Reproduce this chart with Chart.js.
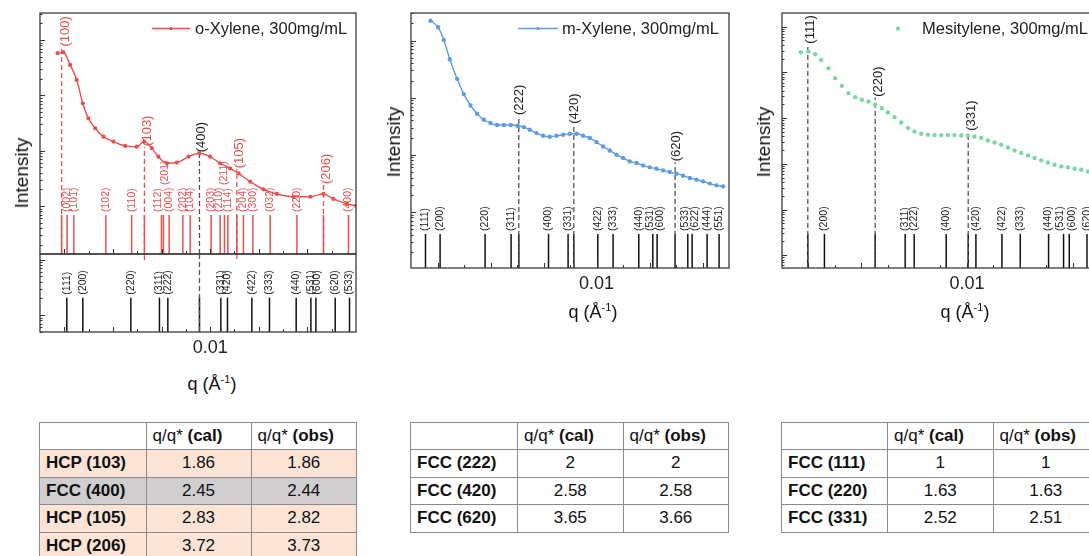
<!DOCTYPE html>
<html>
<head>
<meta charset="utf-8">
<script src="https://cdn.jsdelivr.net/npm/chart.js@4.4.1/dist/chart.umd.min.js"></script>
<style>
    html, body { margin: 0; padding: 0; width: 1089px; height: 556px; overflow: hidden; background: #fff; }
    body { position: relative; font-family: "Liberation Sans", Arial, sans-serif; color: #111; }
    canvas { position: absolute; }
    .t { position: absolute; white-space: nowrap; transform: translate(-50%, -50%); }
    .rot { transform: translate(-50%, -50%) rotate(-90deg); }
    .ax { font-size: 18px; }
    .ax sup { font-size: 11px; }
    table { position: absolute; border-collapse: collapse; table-layout: fixed; font-size: 17px; }
    td { border: 1px solid #8a8a8a; padding: 0 6px; white-space: nowrap; overflow: hidden; box-sizing: border-box; }
    tr { height: 27.5px; }
    td.n { text-align: center; }
</style>
</head>
<body>
<canvas id="cLeftTop"></canvas>
<canvas id="cLeftBot"></canvas>
<canvas id="cMid"></canvas>
<canvas id="cRight"></canvas>

<div class="t rot" style="left:22px;top:173px;font-size:19px">Intensity</div>
<div class="t rot" style="left:393.5px;top:142px;font-size:19px">Intensity</div>
<div class="t rot" style="left:763.5px;top:142px;font-size:19px">Intensity</div>
<div class="t ax" style="left:212px;top:384px">q (Å<sup>-1</sup>)</div>
<div class="t ax" style="left:593px;top:312px">q (Å<sup>-1</sup>)</div>
<div class="t ax" style="left:965px;top:312px">q (Å<sup>-1</sup>)</div>

<table id="tLeft" style="left:39px;top:421.5px"></table>
<table id="tMid" style="left:410px;top:421.5px"></table>
<table id="tRight" style="left:781px;top:421.5px"></table>

<script>
// ---- measured curves (q in 1/A, intensity in arb. units) ----
const oxyQ = [0.00372, 0.00396, 0.00424, 0.00451, 0.00476, 0.00499, 0.00527, 0.00561, 0.00602, 0.00650,
              0.00698, 0.00728, 0.00760, 0.00787, 0.00822, 0.00863, 0.00911, 0.00955, 0.01000, 0.01041,
              0.01082, 0.01117, 0.01165, 0.01219, 0.01275, 0.01343, 0.01412, 0.01466, 0.01507, 0.01563, 0.01600];
const oxyI = [5770, 6010, 3550, 1900, 720, 385, 254, 179, 146, 122,
              118, 146, 111, 78, 59, 61, 78, 90, 78, 59,
              48, 39, 27.5, 20, 16.5, 14.7, 14.7, 16.5, 13.4, 10.9, 10.1];

const mxyQ = [0.003736, 0.004023, 0.004238, 0.004464, 0.004740, 0.004992, 0.005245, 0.005494, 0.005747, 0.006000,
              0.006249, 0.006502, 0.006766, 0.007019, 0.007257, 0.007483, 0.007736, 0.007985, 0.008238, 0.008491,
              0.008740, 0.008992, 0.009245, 0.009494, 0.009747, 0.010000, 0.010249, 0.010502, 0.010755, 0.011004,
              0.011257, 0.011509, 0.011758, 0.012011, 0.012264, 0.012513, 0.012766, 0.013019, 0.013268, 0.013521,
              0.013774, 0.014023, 0.014275, 0.014528, 0.014777];
const mxyI = [22400, 17100, 10300, 4730, 2140, 1155, 731, 523, 411, 360,
              332, 332, 332, 323, 306, 275, 240, 216, 207, 216,
              224, 234, 234, 216, 197, 167, 140, 119, 100.5, 87.9,
              76.7, 71.9, 65.3, 60.3, 57.1, 53.3, 50.0, 46.8, 43.1, 39.3,
              36.7, 34.3, 31.3, 29.2, 28.0];

const mesQ = [0.003712, 0.004000, 0.004254, 0.004481, 0.004758, 0.005011, 0.005265, 0.005515, 0.005769, 0.006023,
              0.006273, 0.006527, 0.006780, 0.007008, 0.007258, 0.007511, 0.007765, 0.008015, 0.008269, 0.008523,
              0.008773, 0.009027, 0.009280, 0.009530, 0.009784, 0.010038, 0.010288, 0.010542, 0.010795, 0.011045,
              0.011299, 0.011553, 0.011803, 0.012057, 0.012311, 0.012561, 0.012814, 0.013068, 0.013318, 0.013572,
              0.013826, 0.014076, 0.014330, 0.014583];
const mesI = [27600, 28450, 24950, 18750, 12360, 7470, 5070, 3515, 2875, 2510,
              2303, 1952, 1652, 1325, 1052, 802, 605, 510, 454, 432,
              425, 425, 425, 425, 417, 411, 397, 366, 324, 293,
              261, 228, 196, 172, 152, 134, 119, 107, 95.5, 87.7,
              83.4, 78.2, 74.3, 68.2];

// ---- reference peak positions ----
const hcpHkl = ['(100)', '(002)', '(101)', '(102)', '(110)', '(103)', '(112)', '(201)', '(004)', '(202)', '(104)',
                '(203)', '(210)', '(211)', '(114)', '(105)', '(204)', '(300)', '(032)', '(220)', '(206)', '(400)'];
const hcpQ = [0.003889, 0.004115, 0.004391, 0.005708, 0.006770, 0.007296, 0.007996, 0.008078, 0.008313, 0.008877, 0.009177,
              0.010041, 0.010412, 0.010588, 0.010728, 0.011099, 0.011370, 0.011757, 0.012469, 0.013568, 0.014663, 0.015691];

const fccLeftHkl = ['(111)', '(200)', '(220)', '(311)', '(222)', '(400)', '(331)', '(420)', '(422)', '(333)',
                    '(440)', '(531)', '(600)', '(620)', '(533)'];
const fccLeftQ = [0.004103, 0.004761, 0.006737, 0.007914, 0.008259, 0.009560, 0.010440, 0.010712, 0.011716, 0.012440,
                  0.013539, 0.014144, 0.014350, 0.015144, 0.015733];

const fccMidHkl = ['(111)', '(200)', '(220)', '(311)', '(222)', '(400)', '(331)', '(420)', '(422)', '(333)',
                   '(440)', '(531)', '(600)', '(620)', '(533)', '(622)', '(444)', '(551)'];
const fccMidQ = [0.003547, 0.004098, 0.005796, 0.006777, 0.007068, 0.008189, 0.008928, 0.009143, 0.010049, 0.010626,
                 0.011596, 0.012125, 0.012287, 0.012966, 0.013445, 0.013608, 0.014174, 0.014626];

const fccRightHkl = ['(111)', '(200)', '(220)', '(311)', '(222)', '(400)', '(331)', '(420)', '(422)', '(333)',
                     '(440)', '(531)', '(600)', '(620)'];
const fccRightQ = [0.003977, 0.004606, 0.006527, 0.007663, 0.008004, 0.009216, 0.010049, 0.010341, 0.011326, 0.012019,
                   0.013091, 0.013659, 0.013875, 0.014545];

// ---- tick labels ----
const xTickValues = [0.01];
const xTickLabels = ['0.01'];

// ---- tables ----
const tabLeftRows = ['HCP (103)', 'FCC (400)', 'HCP (105)', 'HCP (206)'];
const tabLeftCal = ['1.86', '2.45', '2.83', '3.72'];
const tabLeftObs = ['1.86', '2.44', '2.82', '3.73'];
const tabMidRows = ['FCC (222)', 'FCC (420)', 'FCC (620)'];
const tabMidCal = ['2', '2.58', '3.65'];
const tabMidObs = ['2', '2.58', '3.66'];
const tabRightRows = ['FCC (111)', 'FCC (220)', 'FCC (331)'];
const tabRightCal = ['1', '1.63', '2.52'];
const tabRightObs = ['1', '1.63', '2.51'];

// colours
const RED = '#e8504f';
const BLUE = '#5f9de3';
const GREEN = '#7ed6a6';
const DARK = '#222';
const FONT = '"Liberation Sans", Arial, sans-serif';

function qOf(hkls, qs, name) {
    return qs[hkls.indexOf(name)];
}

function vText(ctx, txt, x, yb, size, color) {
    ctx.save();
    ctx.translate(x, yb);
    ctx.rotate(-Math.PI / 2);
    ctx.font = size + 'px ' + FONT;
    ctx.fillStyle = color;
    ctx.textAlign = 'left';
    ctx.textBaseline = 'middle';
    ctx.fillText(txt, 0, 0);
    ctx.restore();
}

// log-interpolated curve value at q (used to sit peak labels on the curve)
function curveAt(data, q) {
    for (let i = 1; i < data.length; i++) {
        if (data[i].x >= q) {
            const a = data[i - 1], b = data[i];
            const t = (q - a.x) / (b.x - a.x);
            return Math.pow(10, Math.log10(a.y) + t * (Math.log10(b.y) - Math.log10(a.y)));
        }
    }
    return data[data.length - 1].y;
}

function line(ctx, x1, y1, x2, y2) {
    ctx.beginPath();
    ctx.moveTo(x1, y1);
    ctx.lineTo(x2, y2);
    ctx.stroke();
}

/**
 * Draws reference sticks, dashed peak markers, frame, inward ticks and legend
 */
const xrdPlugin = {
    id: 'xrd',
    beforeDatasetsDraw(chart, args, o) {
        const { ctx, chartArea: a } = chart;
        const xs = chart.scales.x, ys = chart.scales.y;
        ctx.save();

        // reference sticks + small labels
        const yTop = ys.getPixelForValue(o.stickTop);
        o.stickQ.forEach((q, i) => {
            const px = xs.getPixelForValue(q);
            ctx.strokeStyle = o.stickColor;
            ctx.lineWidth = 1.5;
            ctx.setLineDash([]);
            line(ctx, px, a.bottom, px, yTop);
            const name = o.stickHkl[i];
            if (o.noLabel.includes(name)) return;
            const nudge = o.nudge[name] || 0;
            const raise = o.raised.includes(name) ? 27 : 0;
            vText(ctx, name, px + nudge, yTop - 3 - raise, 10.5, o.stickColor === RED ? RED : DARK);
        });

        // dashed indexed peaks
        const data = chart.data.datasets.length ? chart.data.datasets[0].data : null;
        o.peaks.forEach(p => {
            const px = xs.getPixelForValue(p.q);
            ctx.strokeStyle = p.color === RED ? RED : '#555';
            ctx.lineWidth = 1.3;
            ctx.setLineDash([5, 3]);
            if (p.full) {
                line(ctx, px, a.top, px, a.bottom);
                return;
            }
            const yb = ys.getPixelForValue(curveAt(data, p.q)) + p.dy;
            line(ctx, px, a.bottom + (p.ext || 0), px, yb);
            ctx.setLineDash([]);
            vText(ctx, p.hkl, px + p.dx, yb - 1, 13, p.color);
        });
        ctx.restore();
    },
    afterDraw(chart, args, o) {
        const { ctx, chartArea: a } = chart;
        const xs = chart.scales.x, ys = chart.scales.y;
        ctx.save();
        ctx.setLineDash([]);
        ctx.strokeStyle = '#333';
        ctx.lineWidth = 1;

        // x ticks every 0.001, longer on even thousandths
        const k0 = Math.round(xs.min * 1000), k1 = Math.round(xs.max * 1000);
        for (let k = k0 + 1; k < k1; k++) {
            const px = Math.round(xs.getPixelForValue(k / 1000)) + 0.5;
            const len = k % 2 === 0 ? 5 : 3;
            line(ctx, px, a.bottom, px, a.bottom - len);
        }

        // y ticks on the log axis
        const e0 = Math.floor(Math.log10(ys.min)), e1 = Math.ceil(Math.log10(ys.max));
        for (let e = e0; e <= e1; e++) {
            for (let m = 1; m <= 9; m++) {
                const v = m * Math.pow(10, e);
                if (v <= ys.min || v >= ys.max) continue;
                const py = Math.round(ys.getPixelForValue(v)) + 0.5;
                line(ctx, a.left, py, a.left + (m === 1 ? 5 : 2.5), py);
            }
        }

        // frame
        ctx.strokeStyle = '#3a3a3a';
        ctx.lineWidth = 1.3;
        ctx.strokeRect(a.left, a.top, a.right - a.left, a.bottom - a.top);

        // tick labels
        if (o.showTickLabels) {
            ctx.fillStyle = DARK;
            ctx.font = '18px ' + FONT;
            ctx.textAlign = 'center';
            ctx.textBaseline = 'middle';
            xTickValues.forEach((v, i) => {
                ctx.fillText(xTickLabels[i], xs.getPixelForValue(v), a.bottom + 16);
            });
        }

        // legend inside the frame
        if (o.legend) {
            const L = o.legend;
            const ly = a.top + 15.5;
            ctx.strokeStyle = L.color;
            ctx.fillStyle = L.color;
            if (L.line) {
                ctx.lineWidth = 1.5;
                line(ctx, a.left + L.x0, ly, a.left + L.x1, ly);
                ctx.beginPath();
                ctx.arc(a.left + (L.x0 + L.x1) / 2, ly, 1.6, 0, Math.PI * 2);
                ctx.fill();
            } else {
                ctx.beginPath();
                ctx.arc(a.left + L.x0, ly, 2.2, 0, Math.PI * 2);
                ctx.fill();
            }
            ctx.fillStyle = DARK;
            ctx.font = '16.5px ' + FONT;
            ctx.textAlign = 'left';
            ctx.textBaseline = 'middle';
            ctx.fillText(L.text, a.left + L.tx, ly + 1);
        }
        ctx.restore();
    }
};

const PAD = 30;

function makeChart(id, rect, datasets, xr, yr, opt) {
    const cv = document.getElementById(id);
    cv.width = rect.w + 2 * PAD;
    cv.height = rect.h + 2 * PAD;
    cv.style.left = (rect.x - PAD) + 'px';
    cv.style.top = (rect.y - PAD) + 'px';
    return new Chart(cv, {
        type: 'scatter',
        data: { datasets: datasets },
        options: {
            responsive: false,
            animation: false,
            devicePixelRatio: 1,
            layout: { padding: PAD },
            plugins: {
                legend: { display: false },
                tooltip: { enabled: false },
                xrd: opt
            },
            scales: {
                x: { type: 'linear', min: xr[0], max: xr[1], display: false },
                y: { type: 'logarithmic', min: yr[0], max: yr[1], display: false }
            }
        },
        plugins: [xrdPlugin]
    });
}

function pts(qs, is) {
    return qs.map((q, i) => ({ x: q, y: is[i] }));
}

// left panel, top: o-Xylene with HCP reference
makeChart('cLeftTop', { x: 40, y: 13, w: 316, h: 241 }, [{
    data: pts(oxyQ, oxyI),
    showLine: true,
    borderColor: RED,
    backgroundColor: RED,
    borderWidth: 1.4,
    pointRadius: 1.4,
    cubicInterpolationMode: 'monotone'
}], [0.003, 0.016], [1.357, 30760], {
    stickHkl: hcpHkl, stickQ: hcpQ, stickTop: 6.875, stickColor: RED,
    noLabel: ['(100)', '(103)', '(105)', '(206)'],
    raised: ['(201)', '(211)'],
    nudge: { '(112)': -3, '(201)': 1.5, '(210)': -1.5 },
    peaks: [
        { hkl: '(100)', q: qOf(hcpHkl, hcpQ, '(100)'), color: RED, dx: 3.5, dy: -5 },
        { hkl: '(103)', q: qOf(hcpHkl, hcpQ, '(103)'), color: RED, dx: 2.5, dy: 5, ext: 6 },
        { hkl: '(400)', q: qOf(fccLeftHkl, fccLeftQ, '(400)'), color: DARK, dx: 2, dy: 0 },
        { hkl: '(105)', q: qOf(hcpHkl, hcpQ, '(105)'), color: RED, dx: 3, dy: -3, ext: 5 },
        { hkl: '(206)', q: qOf(hcpHkl, hcpQ, '(206)'), color: RED, dx: 3, dy: -9 }
    ],
    showTickLabels: false,
    legend: { line: true, color: RED, x0: 112, x1: 150, tx: 155, text: 'o-Xylene, 300mg/mL' }
});

// left panel, bottom: FCC reference
makeChart('cLeftBot', { x: 40, y: 254, w: 316, h: 78 }, [], [0.003, 0.016], [0.493, 12.68], {
    stickHkl: fccLeftHkl, stickQ: fccLeftQ, stickTop: 2.06, stickColor: '#111',
    noLabel: ['(400)'],
    raised: [],
    nudge: { '(600)': 1.5 },
    peaks: [{ hkl: '(400)', q: qOf(fccLeftHkl, fccLeftQ, '(400)'), color: DARK, full: true }],
    showTickLabels: true,
    legend: null
});

// middle panel: m-Xylene
makeChart('cMid', { x: 411, y: 13, w: 318, h: 255.5 }, [{
    data: pts(mxyQ, mxyI),
    showLine: true,
    borderColor: BLUE,
    backgroundColor: BLUE,
    borderWidth: 1.4,
    pointRadius: 1.5,
    cubicInterpolationMode: 'monotone'
}], [0.003, 0.015], [1.041, 30470], {
    stickHkl: fccMidHkl, stickQ: fccMidQ, stickTop: 4.12, stickColor: '#111',
    noLabel: ['(222)', '(420)', '(620)'],
    raised: [],
    nudge: { '(531)': -3, '(600)': 3.5, '(533)': -3, '(622)': 2.5 },
    peaks: [
        { hkl: '(222)', q: qOf(fccMidHkl, fccMidQ, '(222)'), color: DARK, dx: 1, dy: -10 },
        { hkl: '(420)', q: qOf(fccMidHkl, fccMidQ, '(420)'), color: DARK, dx: 1, dy: -9 },
        { hkl: '(620)', q: qOf(fccMidHkl, fccMidQ, '(620)'), color: DARK, dx: 1, dy: -11 }
    ],
    showTickLabels: true,
    legend: { line: true, color: BLUE, x0: 107, x1: 147, tx: 151, text: 'm-Xylene, 300mg/mL' }
});

// right panel: Mesitylene (runs past the page edge)
makeChart('cRight', { x: 782, y: 13, w: 317, h: 255.5 }, [{
    data: pts(mesQ, mesI),
    showLine: false,
    borderColor: GREEN,
    backgroundColor: GREEN,
    pointRadius: 2.2,
    pointBorderWidth: 0
}], [0.003, 0.015], [0.5254, 199100], {
    stickHkl: fccRightHkl, stickQ: fccRightQ, stickTop: 2.93, stickColor: '#111',
    noLabel: ['(111)', '(220)', '(331)'],
    raised: [],
    nudge: { '(531)': -3, '(600)': 2.7 },
    peaks: [
        { hkl: '(111)', q: qOf(fccRightHkl, fccRightQ, '(111)'), color: DARK, dx: 3, dy: -7 },
        { hkl: '(220)', q: qOf(fccRightHkl, fccRightQ, '(220)'), color: DARK, dx: 3, dy: -7 },
        { hkl: '(331)', q: qOf(fccRightHkl, fccRightQ, '(331)'), color: DARK, dx: 3, dy: -4 }
    ],
    showTickLabels: true,
    legend: { line: false, color: GREEN, x0: 116, tx: 140, text: 'Mesitylene, 300mg/mL' }
});

// q/q* tables
function fillTable(id, rows, cal, obs, widths, fills) {
    const t = document.getElementById(id);
    let html = '<colgroup>' + widths.map(w => '<col style="width:' + w + 'px">').join('') + '</colgroup>';
    html += '<tr><td></td><td>q/q* <b>(cal)</b></td><td>q/q* <b>(obs)</b></td></tr>';
    rows.forEach((r, i) => {
        const bg = fills ? ' style="background:' + fills[i] + '"' : '';
        html += '<tr' + bg + '><td><b>' + r + '</b></td><td class="n">' + cal[i] + '</td><td class="n">' + obs[i] + '</td></tr>';
    });
    t.innerHTML = html;
    t.style.width = widths.reduce((s, w) => s + w, 0) + 'px';
}

fillTable('tLeft', tabLeftRows, tabLeftCal, tabLeftObs, [106.5, 105, 105.5],
    ['#fbe4d5', '#d0cece', '#fbe4d5', '#fbe4d5']);
fillTable('tMid', tabMidRows, tabMidCal, tabMidObs, [107, 105.5, 105.5], null);
fillTable('tRight', tabRightRows, tabRightCal, tabRightObs, [106, 105.5, 105.5], null);
</script>
</body>
</html>
